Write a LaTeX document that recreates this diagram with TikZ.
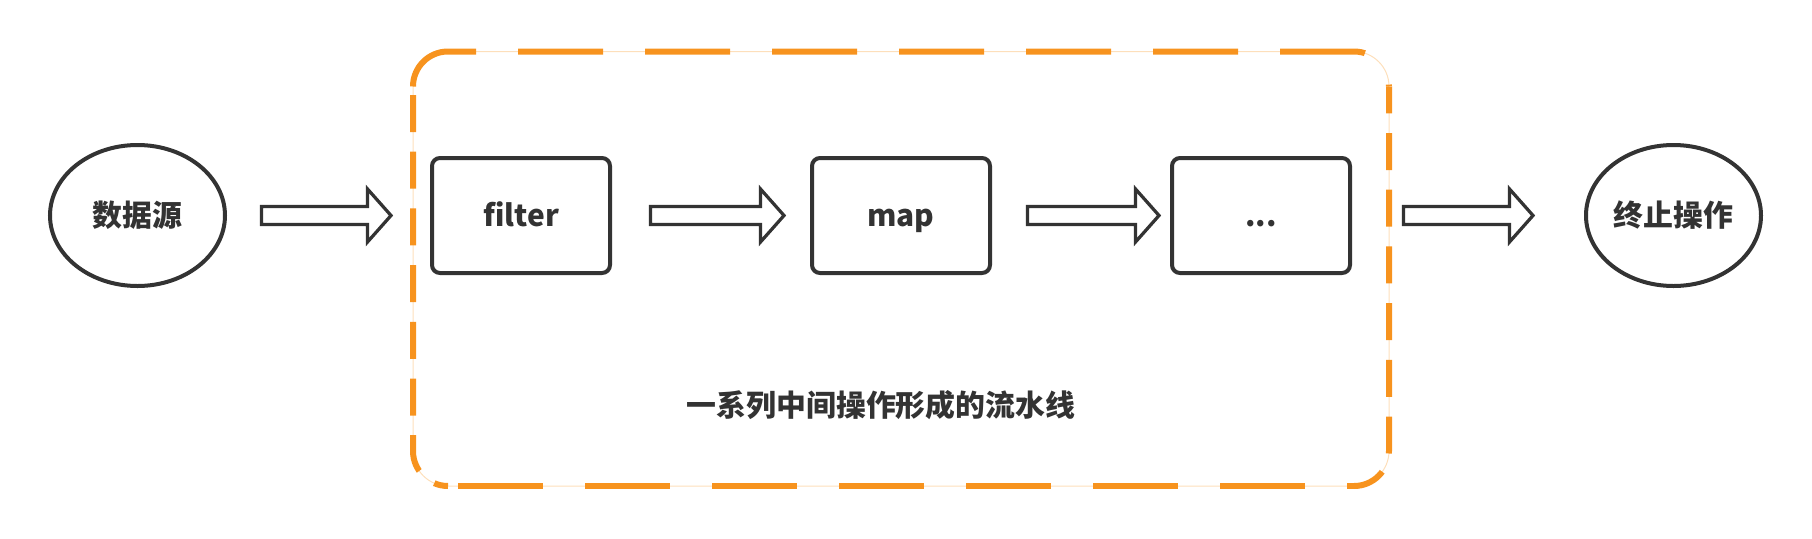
\documentclass[tikz,border=0pt]{standalone}
\usepackage{fontspec}
\setmainfont{Noto Sans CJK SC}
\usetikzlibrary{shapes.geometric,calc}
\definecolor{ink}{HTML}{333333}
\definecolor{amber}{HTML}{F7931E}

\begin{document}
\begin{tikzpicture}[font=\bfseries\fontsize{17}{20}\selectfont,text=ink,
endpt/.style={draw=ink,line width=.08cm,ellipse,minimum width=3.5cm,minimum height=2.82cm,inner sep=0,outer sep=0},
op/.style={draw=ink,line width=.08cm,rounded corners=.16cm,minimum width=3.56cm,minimum height=2.3cm,inner sep=0,outer sep=0,text height=.45cm,text depth=0cm},
fat/.style={draw=ink,line width=.065cm,line join=miter,to path={let \p1=(\tikztostart),\p2=(\tikztotarget) in (\x1,\y1+.18cm) -- (\x2-.47cm,\y1+.18cm) -- (\x2-.47cm,\y1+.53cm) -- (\x2,\y1) -- (\x2-.47cm,\y1-.53cm) -- (\x2-.47cm,\y1-.18cm) -- (\x1,\y1-.18cm) -- cycle}},
dashline/.style={draw=amber,line width=.12cm}]
\useasboundingbox (0,0) rectangle (36.24,-10.76);
% dashed pipeline frame
\node[draw=amber!30,line width=.02cm,rounded corners=.7cm,minimum width=19.52cm,minimum height=8.69cm,inner sep=0,outer sep=0] (frame) at (18.02,-5.375) {};
\draw[dashline,dash pattern=on 1.7cm off .84cm,dash phase=.04cm] ([yshift=-.7cm]frame.north west) arc[start angle=180,end angle=90,radius=.7cm] -- ([xshift=-.7cm]frame.north east) arc[start angle=90,end angle=0,radius=.7cm];
\draw[dashline,dash pattern=on 1.7cm off .84cm,dash phase=2.34cm] ([xshift=.7cm]frame.south west) -- ([xshift=-.7cm]frame.south east);
\draw[dashline,dash pattern=on .74cm off .394cm,dash phase=.964cm] ([yshift=-.7cm]frame.north west) -- ([yshift=.7cm]frame.south west) arc[start angle=180,end angle=270,radius=.7cm];
\draw[dashline,dash pattern=on .74cm off .394cm,dash phase=.204cm] ([yshift=-.7cm]frame.north east) -- ([yshift=.7cm]frame.south east) arc[start angle=0,end angle=-90,radius=.7cm];
\node (caption) at (17.62,-8.1) {一系列中间操作形成的流水线};
% stages
\node[endpt] (src) at (2.75,-4.31) {数据源};
\node[op] (filter) at (10.42,-4.31) {filter};
\node[op] (map) at (18.02,-4.31) {map};
\node[op] (dots) at (25.22,-4.31) {...};
\node[endpt] (sink) at (33.47,-4.31) {终止操作};
\draw[fat] ([xshift=.73cm]src.east) to ([xshift=-.44cm]frame.west);
\draw[fat] ([xshift=.81cm]filter.east) to ([xshift=-.56cm]map.west);
\draw[fat] ([xshift=.75cm]map.east) to ([xshift=-.26cm]dots.west);
\draw[fat] ([xshift=.29cm]frame.east |- sink) to ([xshift=-1.06cm]sink.west);
\end{tikzpicture}
\end{document}
